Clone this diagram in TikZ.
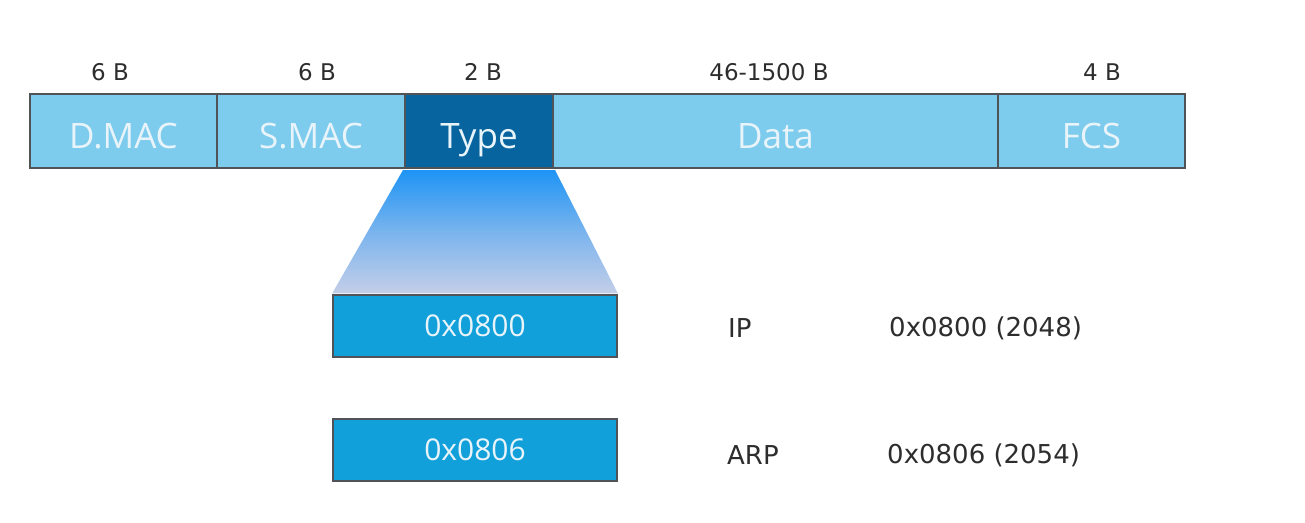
\documentclass[tikz,border=0pt]{standalone}
\usepackage{fontspec}
\setmainfont{Open Sans}
\newfontfamily\dvs{DejaVu Sans}
\definecolor{fieldblue}{RGB}{126,204,237}
\definecolor{typeblue}{RGB}{8,100,158}
\definecolor{valblue}{RGB}{18,160,218}
\definecolor{edgegray}{RGB}{80,84,88}
\definecolor{txtwhite}{RGB}{232,244,250}
\definecolor{txtdark}{RGB}{45,45,45}
\definecolor{shadetop}{RGB}{30,148,245}
\definecolor{shadebot}{RGB}{196,206,232}
\tikzset{
  field/.style={draw=edgegray, line width=2pt, fill=fieldblue, minimum height=74pt, inner sep=0pt,
    text height=38pt, text depth=3pt,
    text=txtwhite, font=\fontsize{35}{38}\selectfont},
  typefield/.style={field, fill=typeblue},
  valbox/.style={draw=edgegray, line width=1.5pt, fill=valblue, minimum width=284pt, minimum height=62pt,
    inner sep=0pt, text height=21pt, text depth=1pt, text=txtwhite, font=\fontsize{30}{33}\selectfont},
  sizelbl/.style={text=txtdark, font=\dvs\fontsize{23}{26}\selectfont, inner sep=0pt},
  desc/.style={text=txtdark, font=\dvs\fontsize{26}{30}\selectfont, inner sep=0pt, anchor=west}
}
\begin{document}
\begin{tikzpicture}[x=1pt,y=-1pt]
\useasboundingbox (0,0) rectangle (1305,522);
% value boxes first so the shade sits above their top edge
\node[valbox] (v1) at (475,326) {0x0800};
\node[valbox] (v2) at (475,450) {0x0806};
% frame fields
\node[field, minimum width=187pt] (dmac) at (123.5,131) {D.MAC};
\node[field, minimum width=188pt] (smac) at (311,131) {S.MAC};
\node[field, minimum width=445pt] (data) at (775.5,131) {Data};
\node[field, minimum width=187pt] (fcs) at (1091.5,131) {FCS};
\node[typefield, minimum width=148pt] (type) at (479,131) {Type};
% expansion shade
\shade[top color=shadetop, bottom color=shadebot, middle color=shadetop!45!shadebot]
  ([xshift=-1pt,yshift=-1pt]type.south west) -- ([xshift=1pt,yshift=-1pt]type.south east)
  -- ([yshift=1pt]v1.north east) -- ([yshift=1pt]v1.north west) -- cycle;
% size labels
\node[sizelbl] (l1) at (110,72) {6 B};
\node[sizelbl] (l2) at (317,72) {6 B};
\node[sizelbl] (l3) at (483,72) {2 B};
\node[sizelbl] (l4) at (769,72) {46-1500 B};
\node[sizelbl] (l5) at (1102,72) {4 B};
% descriptions
\node[desc] (ip) at (728,328) {IP};
\node[desc] (ipv) at (889,328) {0x0800 (2048)};
\node[desc] (arp) at (727,455) {ARP};
\node[desc] (arpv) at (887,455) {0x0806 (2054)};
\end{tikzpicture}
\end{document}
